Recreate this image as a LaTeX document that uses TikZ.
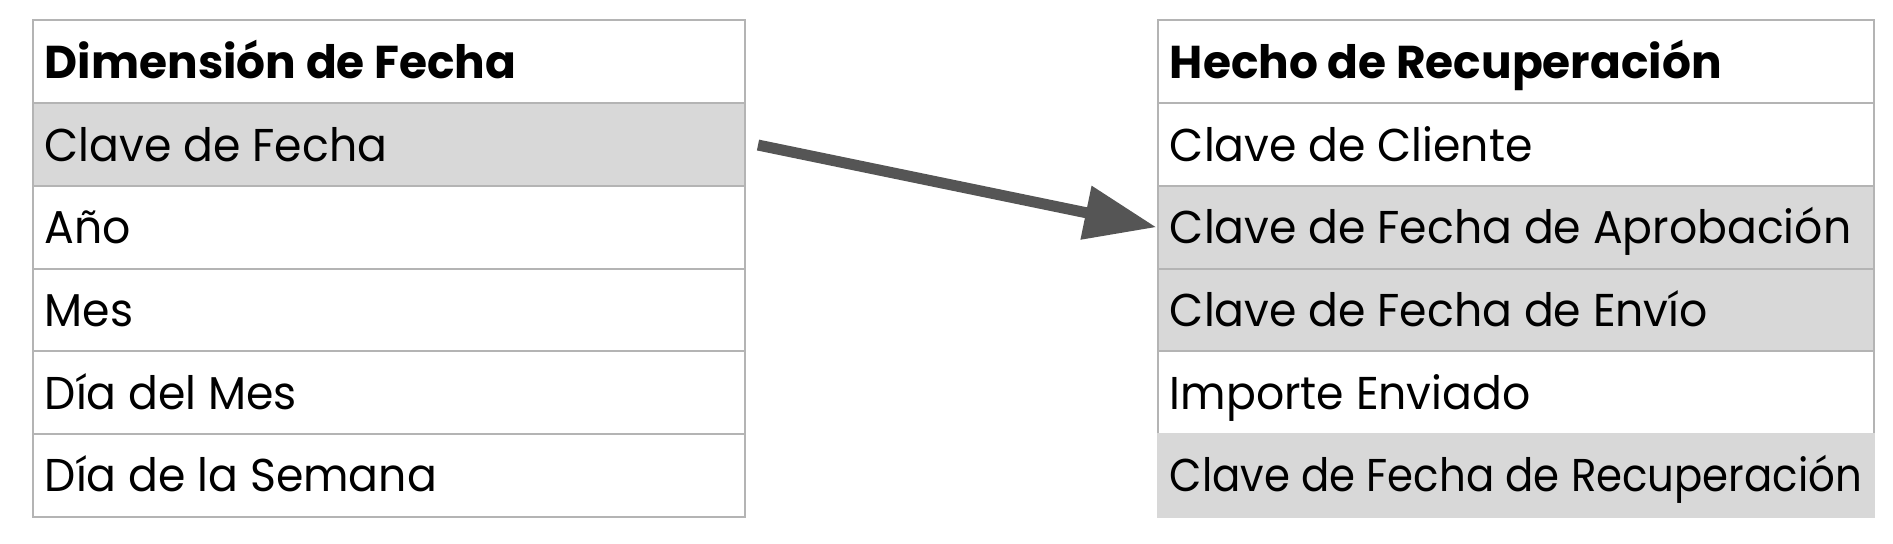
\documentclass[tikz,border=0pt]{standalone}
\usepackage{graphicx}
\usepackage{fontspec}
\setmainfont[FakeStretch=0.96,BoldFeatures={FakeStretch=0.988}]{Poppins}
\usetikzlibrary{arrows.meta}
\definecolor{bordergray}{HTML}{B4B4B4}
\definecolor{keygray}{HTML}{D8D8D8}
\definecolor{arrowgray}{HTML}{555555}
\tikzset{
  cellbase/.style={rectangle, draw=bordergray, line width=1pt, anchor=north west,
    minimum height=41.35pt, inner sep=0pt},
  lcell/.style={cellbase, minimum width=356pt},
  rcell/.style={cellbase, minimum width=358pt},
  celltext/.style={anchor=west, inner xsep=6.5pt, inner ysep=0pt,
    text height=20pt, text depth=3.4pt, font=\fontsize{23}{27}\selectfont, text=black},
  hdr/.style={font=\fontsize{23}{27}\selectfont\bfseries},
  keycell/.style={fill=keygray},
  link/.style={draw=arrowgray, line width=5.5pt, -{Triangle[length=36pt,width=26pt]}}
}
\begin{document}
\begin{tikzpicture}[x=0.5pt,y=-0.5pt]
\useasboundingbox (0,0) rectangle (1893,544);
% left table
\node[lcell] (lh) at (31.5,19.5) {};
\node[lcell,keycell] (l1) at (31.5,102.2) {};
\node[lcell] (l2) at (31.5,184.9) {};
\node[lcell] (l3) at (31.5,267.6) {};
\node[lcell] (l4) at (31.5,350.3) {};
\node[lcell] (l5) at (31.5,433.0) {};
\node[celltext,hdr] (lht) at (lh.west) {Dimensión de Fecha};
\node[celltext] (l1t) at (l1.west) {Clave de Fecha};
\node[celltext] (l2t) at (l2.west) {Año};
\node[celltext] (l3t) at (l3.west) {Mes};
\node[celltext] (l4t) at (l4.west) {Día del Mes};
\node[celltext] (l5t) at (l5.west) {Día de la Semana};
% right table
\node[rcell] (rh) at (1156.5,19.5) {};
\node[rcell] (r1) at (1156.5,102.2) {};
\node[rcell,keycell] (r2) at (1156.5,184.9) {};
\node[rcell,keycell] (r3) at (1156.5,267.6) {};
\node[rcell] (r4) at (1156.5,350.3) {};
\node[rcell,keycell,draw=keygray] (r5) at (1156.5,433.0) {};
\node[celltext,hdr] (rht) at (rh.west) {Hecho de Recuperación};
\node[celltext] (r1t) at (r1.west) {Clave de Cliente};
\node[celltext] (r2t) at (r2.west) {Clave de Fecha de Aprobación};
\node[celltext] (r3t) at (r3.west) {Clave de Fecha de Envío};
\node[celltext] (r4t) at (r4.west) {Importe Enviado};
\node[celltext] (r5t) at (r5.west) {\scalebox{0.948}[1]{Clave de Fecha de Recuperación}};
% connector
\draw[link] ([xshift=6.25pt,yshift=-0.25pt]l1.east) -- (r2.west);
\end{tikzpicture}
\end{document}
